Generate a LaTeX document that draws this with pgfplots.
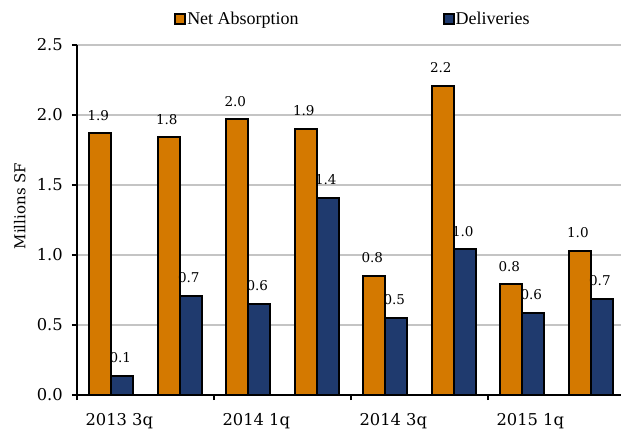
\documentclass[border=0pt]{standalone}
\usepackage{fontspec}
\usepackage{pgfplots}
\pgfplotsset{compat=1.18}
\newfontfamily\dvs{DejaVu Serif}
\newfontfamily\lib{Liberation Serif}
\definecolor{barorange}{RGB}{212,121,0}
\definecolor{barblue}{RGB}{31,58,110}
\definecolor{gridgray}{RGB}{196,196,196}
\begin{document}
\begin{tikzpicture}
\path[use as bounding box] (0,0) rectangle (621bp,430bp);
\begin{axis}[
  at={(77bp,35bp)}, anchor=south west,
  scale only axis, width=544bp, height=350bp,
  ybar=0pt, bar width=22bp,
  xmin=-0.5, xmax=7.44, ymin=0, ymax=2.5,
  separate axis lines,
  axis x line=bottom, axis y line=left,
  axis line style={-, line width=1.5bp, black},
  tick align=outside, major tick length=5bp,
  tick style={black, line width=1.3bp},
  xtick={-0.5,1.5,3.5,5.5}, xticklabels={},
  extra x ticks={0,2,4,6},
  extra x tick labels={2013 3q,2014 1q,2014 3q,2015 1q},
  extra x tick style={major tick length=0pt, grid=none},
  ytick={0,0.5,1,1.5,2,2.5},
  yticklabels={0.0,0.5,1.0,1.5,2.0,2.5},
  ticklabel style={font=\dvs\fontsize{16.3bp}{19bp}\selectfont, inner sep=0pt},
  yticklabel style={xshift=-9bp},
  xticklabel style={yshift=-18bp, xshift=8bp},
  ymajorgrids, grid style={gridgray, line width=1.5bp},
  ylabel={Millions SF},
  ylabel style={at={(axis description cs:-0.105,0.54)}, anchor=center, font=\dvs\fontsize{15bp}{18bp}\selectfont},
  point meta=explicit symbolic,
  nodes near coords,
  every node near coord/.append style={font=\dvs\fontsize{13.5bp}{16bp}\selectfont, inner sep=0pt, yshift=12bp, xshift=-2bp, black},
  legend columns=2,
  legend style={draw=none, fill=none, at={(0.5064,1.074)}, anchor=center,
    font=\lib\fontsize{18bp}{20bp}\selectfont,
    /tikz/every even column/.append style={column sep=143bp},
    nodes={inner sep=1bp}},
]
\addplot+[fill=barorange, draw=black, line width=1.9bp,
  legend image code/.code={\draw[fill=barorange,draw=black,line width=1.8bp] (0bp,-5bp) rectangle (10bp,5bp);}]
  coordinates {(0,1.87)[1.9] (1,1.84)[1.8] (2,1.97)[2.0] (3,1.90)[1.9] (4,0.85)[0.8] (5,2.21)[2.2] (6,0.79)[0.8] (7,1.03)[1.0]};
\addplot+[fill=barblue, draw=black, line width=1.9bp,
  legend image code/.code={\draw[fill=barblue,draw=black,line width=1.8bp] (0bp,-5bp) rectangle (10bp,5bp);}]
  coordinates {(0,0.136)[0.1] (1,0.71)[0.7] (2,0.65)[0.6] (3,1.41)[1.4] (4,0.55)[0.5] (5,1.04)[1.0] (6,0.586)[0.6] (7,0.686)[0.7]};
\legend{Net Absorption,Deliveries}
\end{axis}
\end{tikzpicture}
\end{document}
